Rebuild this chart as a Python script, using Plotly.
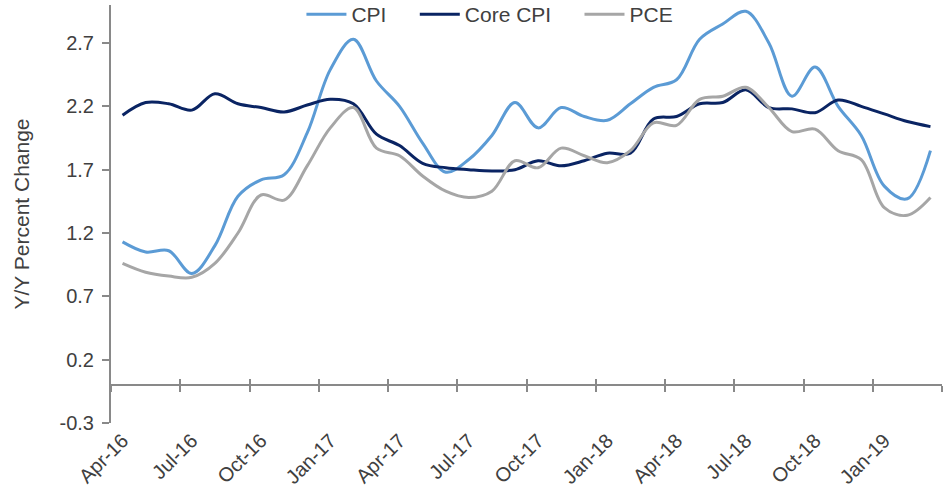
import plotly.graph_objects as go

months = ["Apr-16","May-16","Jun-16","Jul-16","Aug-16","Sep-16","Oct-16","Nov-16","Dec-16",
          "Jan-17","Feb-17","Mar-17","Apr-17","May-17","Jun-17","Jul-17","Aug-17","Sep-17",
          "Oct-17","Nov-17","Dec-17","Jan-18","Feb-18","Mar-18","Apr-18","May-18","Jun-18",
          "Jul-18","Aug-18","Sep-18","Oct-18","Nov-18","Dec-18","Jan-19","Feb-19","Mar-19"]

cpi = [1.13, 1.05, 1.06, 0.88, 1.10, 1.49, 1.62, 1.66, 1.99, 2.49, 2.73, 2.40,
       2.20, 1.91, 1.68, 1.78, 1.97, 2.23, 2.03, 2.19, 2.12, 2.09, 2.22, 2.35,
       2.41, 2.73, 2.85, 2.95, 2.70, 2.28, 2.51, 2.20, 1.97, 1.57, 1.47, 1.85]

core_cpi = [2.13, 2.23, 2.22, 2.17, 2.30, 2.22, 2.19, 2.155, 2.21, 2.255, 2.22, 1.98,
            1.89, 1.75, 1.715, 1.70, 1.69, 1.70, 1.77, 1.73, 1.77, 1.83, 1.83, 2.10,
            2.12, 2.22, 2.23, 2.33, 2.19, 2.18, 2.15, 2.25, 2.20, 2.14, 2.08, 2.04]

pce = [0.96, 0.89, 0.86, 0.85, 0.96, 1.20, 1.50, 1.46, 1.73, 2.03, 2.19, 1.87,
       1.81, 1.65, 1.53, 1.48, 1.53, 1.77, 1.715, 1.87, 1.81, 1.755, 1.85, 2.07,
       2.05, 2.255, 2.28, 2.35, 2.19, 2.00, 2.02, 1.85, 1.78, 1.40, 1.34, 1.48]

y_ticks = [-0.3, 0.2, 0.7, 1.2, 1.7, 2.2, 2.7]
y_range = [-0.3, 3.0]

idx = list(range(len(months)))
label_pos = idx[::3]
label_text = months[::3]
boundaries = [i - 0.5 for i in range(0, len(months) + 1, 3)]

FONT = "Liberation Sans, Arial, sans-serif"
TXT = "#404040"
AX = "#898989"
PAD = "\u00a0" * 4

fig = go.Figure()
# each series on its own (matched) x axis so that all three axis layers render
series = [("CPI", cpi, "#5b9bd5", "x"), ("Core CPI", core_cpi, "#0a2463", "x2"),
          ("PCE", pce, "#a6a6a6", "x3")]
for i, (name, vals, col, xa) in enumerate(series):
    fig.add_trace(go.Scatter(x=idx, y=vals, name=name + (PAD if i < 2 else ""),
                             mode="lines", xaxis=xa, yaxis="y",
                             line=dict(color=col, width=3, shape="spline", smoothing=1.0)))

zero_pos = (0 - y_range[0]) / (y_range[1] - y_range[0])
xr = [-0.5, len(months) - 0.5]

fig.update_layout(
    width=952, height=495,
    margin=dict(l=111, r=10, t=5, b=72, autoexpand=False),
    plot_bgcolor="white", paper_bgcolor="white",
    font=dict(family=FONT, size=20, color=TXT),
    showlegend=True,
    legend=dict(orientation="h", x=0.456, xanchor="center", y=1.026, yanchor="top",
                bgcolor="rgba(0,0,0,0)", font=dict(size=21, color=TXT),
                itemwidth=40, tracegroupgap=0),
    # zero line with downward ticks at quarter boundaries
    xaxis=dict(range=xr, anchor="free", position=zero_pos, automargin=False,
               showline=True, linecolor=AX, linewidth=2,
               tickmode="array", tickvals=boundaries, ticks="outside", ticklen=6,
               tickcolor=AX, tickwidth=1.5, showticklabels=False,
               showgrid=False, zeroline=False),
    # bottom axis carrying the month labels
    xaxis2=dict(overlaying="x", matches="x", anchor="y", side="bottom", automargin=False,
                showline=False, ticks="", tickmode="array", tickvals=label_pos,
                ticktext=label_text, tickangle=-45, ticklabelstandoff=1,
                tickfont=dict(size=20, color=TXT), showgrid=False, zeroline=False),
    # upward ticks at the zero line so the marks cross it
    xaxis3=dict(overlaying="x", matches="x", anchor="free", position=zero_pos,
                automargin=False, showline=False, tickmode="array", tickvals=boundaries,
                ticks="inside", ticklen=6, tickcolor=AX, tickwidth=1.5,
                showticklabels=False, showgrid=False, zeroline=False),
    yaxis=dict(range=y_range, tickmode="array", tickvals=y_ticks, automargin=False,
               ticktext=[f"{v:.1f}" for v in y_ticks],
               showline=True, linecolor=AX, linewidth=2, ticks="outside", ticklen=7,
               tickcolor=AX, tickwidth=1.5, showgrid=False, zeroline=False,
               ticklabelstandoff=4, tickfont=dict(size=20, color=TXT),
               title=dict(text="Y/Y Percent Change", font=dict(size=21, color=TXT), standoff=24)),
)

fig.write_html("out.html", config={"displayModeBar": False},
               post_script="document.body.style.margin='0px';")
